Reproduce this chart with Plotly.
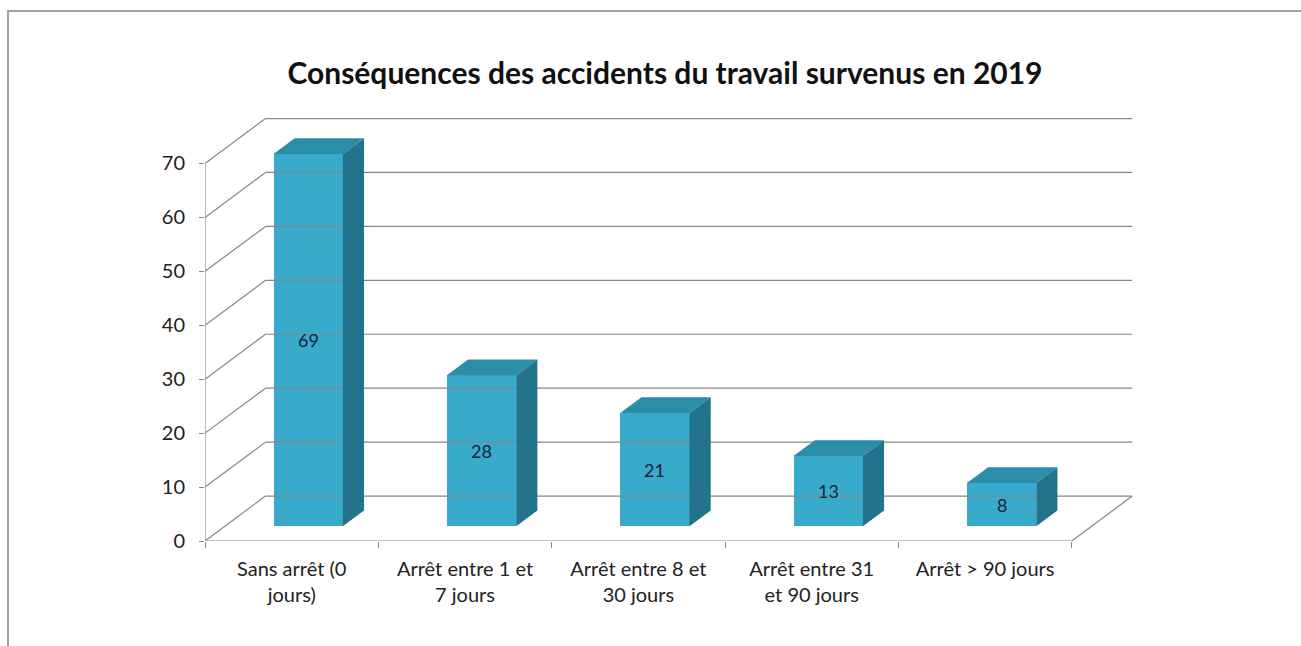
import plotly.graph_objects as go

# Data
categories = ["Sans arrêt (0<br>jours)", "Arrêt entre 1 et<br>7 jours", "Arrêt entre 8 et<br>30 jours",
              "Arrêt entre 31<br>et 90 jours", "Arrêt > 90 jours"]
values = [69, 28, 21, 13, 8]
value_ticks = [0, 10, 20, 30, 40, 50, 60, 70]
title = "Conséquences des accidents du travail survenus en 2019"

# Pseudo-3D projection: a unit of depth shifts right and up
DX = 0.349      # shift in category units at full depth
DY = 8.33       # shift in value units at full depth
T0, T1 = 0.33, 0.68   # bar front / back depth
BW = 0.4        # bar width (gap width 150%)

FRONT = "#38AACB"
TOP = "#2B8DA8"
SIDE = "#24738C"
GRID = "#868686"
FONT = "Lato"

n = len(categories)
xmin, xmax = -0.5, n - 0.5
ymax = max(value_ticks)

fig = go.Figure()

def line(xs, ys, color=GRID, width=1.2):
    fig.add_trace(go.Scatter(x=xs, y=ys, mode="lines", line=dict(color=color, width=width),
                             hoverinfo="skip", showlegend=False))

# back wall gridlines + side wall diagonals
for v in value_ticks:
    line([xmin + DX, xmax + DX], [v + DY, v + DY])
    line([xmin, xmin + DX], [v, v + DY])
# floor: front edge and right edge
line([xmin, xmax], [0, 0])
line([xmax, xmax + DX], [0, DY])
# front value axis
line([xmin, xmin], [0, ymax])

# bars: front face
fig.add_trace(go.Bar(x=[i + T0 * DX - 0.02 for i in range(n)], y=values, base=[T0 * DY] * n,
                     width=BW, marker=dict(color=FRONT, line=dict(width=0)),
                     hoverinfo="skip", showlegend=False))

# bars: top and side faces
for i, v in enumerate(values):
    xc = i + T0 * DX - 0.02
    xl = xc - BW / 2
    xr = xc + BW / 2
    yb = T0 * DY
    yt = v + T0 * DY
    ddx = (T1 - T0) * DX
    ddy = (T1 - T0) * DY
    fig.add_trace(go.Scatter(x=[xl, xr, xr + ddx, xl + ddx, xl], y=[yt, yt, yt + ddy, yt + ddy, yt],
                             fill="toself", fillcolor=TOP, mode="lines", line=dict(width=0, color=TOP),
                             hoverinfo="skip", showlegend=False))
    fig.add_trace(go.Scatter(x=[xr, xr + ddx, xr + ddx, xr, xr], y=[yb, yb + ddy, yt + ddy, yt, yb],
                             fill="toself", fillcolor=SIDE, mode="lines", line=dict(width=0, color=SIDE),
                             hoverinfo="skip", showlegend=False))
    fig.add_annotation(x=xc, y=T0 * DY + v / 2, text=str(v), showarrow=False,
                       font=dict(family=FONT, size=18, color="#16233A"))

plot_w = 1301 - 205 - 167
plot_h = 646 - 118 - 105

fig.update_layout(
    width=1301, height=646,
    margin=dict(l=205, r=167, t=118, b=105),
    paper_bgcolor="white", plot_bgcolor="white",
    title=dict(text="<b>" + title + "</b>", x=665 / 1301, xanchor="center",
               y=1 - 73 / 646, yanchor="middle",
               font=dict(family=FONT, size=30, color="#111111")),
    xaxis=dict(range=[xmin, xmax + DX + 0.01], tickvals=list(range(n)), ticktext=categories,
               showgrid=False, zeroline=False, showline=False, ticks="",
               ticklabelstandoff=14,
               tickfont=dict(family=FONT, size=20, color="#222222"),
               minor=dict(tickvals=[xmin + k for k in range(n + 1)], ticks="outside",
                          ticklen=6, tickcolor=GRID, tickwidth=1.2, showgrid=False)),
    yaxis=dict(range=[0, ymax + DY + 0.1], tickvals=value_ticks, showgrid=False, zeroline=False,
               showline=False, ticks="outside", ticklen=5, tickcolor=GRID, tickwidth=1.2,
               ticklabelstandoff=10,
               tickfont=dict(family=FONT, size=20, color="#222222")),
    bargap=0,
    shapes=[dict(type="rect", xref="paper", yref="paper", x0=-197 / plot_w, x1=1.5,
                 y0=-0.5, y1=1 + (118 - 11) / plot_h,
                 line=dict(color="#A0A0A0", width=2), fillcolor="rgba(0,0,0,0)", layer="below")],
)

fig.write_html("out.html")
